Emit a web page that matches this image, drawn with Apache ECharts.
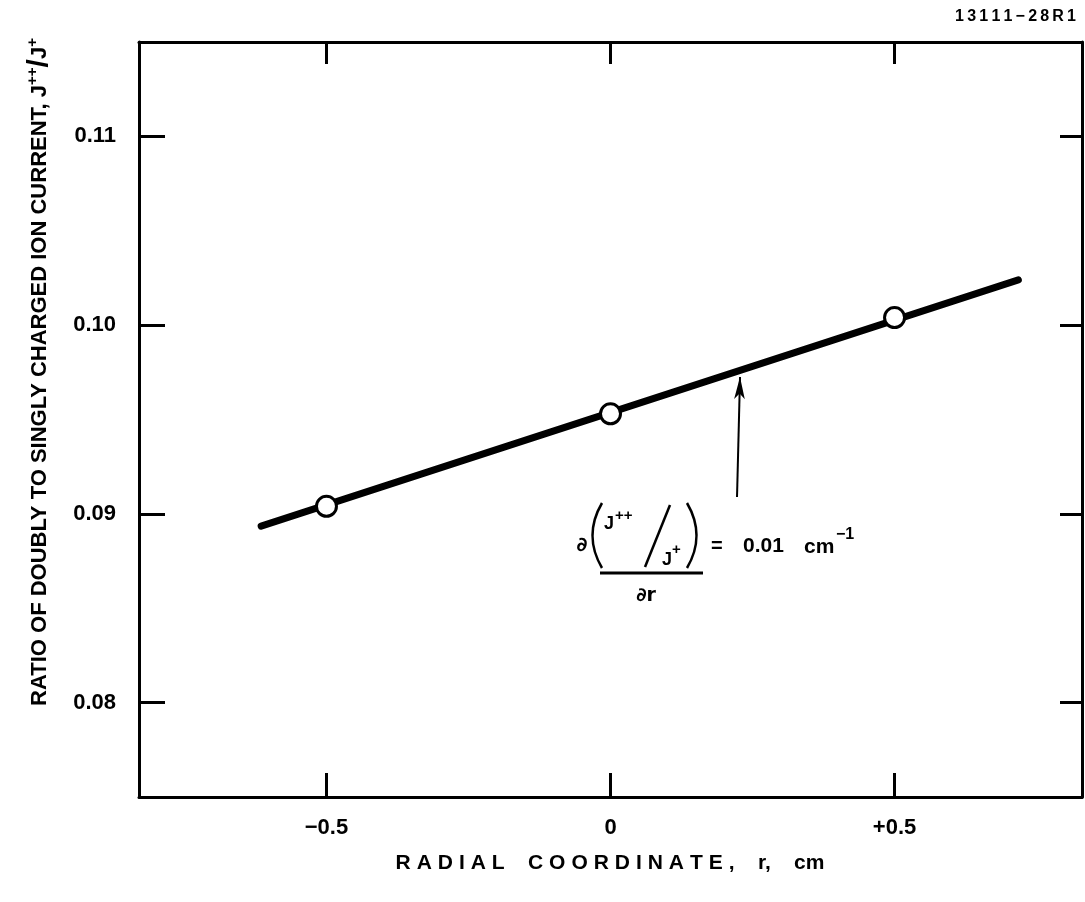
<!DOCTYPE html>
<html>
<head>
<meta charset="utf-8">
<title>J++/J+ vs radial coordinate</title>
<script src="https://cdn.jsdelivr.net/npm/echarts@6/dist/echarts.min.js"></script>
<style>
  html, body { margin: 0; padding: 0; background: #fff; }
  #chart { width: 1085px; height: 902px; }
</style>
</head>
<body>
<div id="chart"></div>
<script>
// Tick positions and their printed labels
const xTicks = [-0.5, 0, 0.5];
const xTickLabels = ['\u22120.5', '0', '+0.5'];
const yTicks = [0.08, 0.09, 0.10, 0.11];
const yTickLabels = ['0.08', '0.09', '0.10', '0.11'];

// Measured ratio at three radial positions (open circles)
const measuredR = [-0.5, 0, 0.5];
const measuredRatio = [0.0904, 0.0953, 0.1004];

// Straight-line fit through the measurements
const fitR = [-0.615, 0.718];
const fitRatio = [0.08935, 0.1024];

// Leader arrow pointing at the fitted line
const arrowR = [0.2227, 0.228];
const arrowRatio = [0.09089, 0.09725];

const FONT = '"Liberation Sans", Arial, Helvetica, sans-serif';
const INK = '#000';

function labelFor(ticks, labels) {
  return function (v) {
    for (let i = 0; i < ticks.length; i++) {
      if (Math.abs(ticks[i] - v) < 1e-9) return labels[i];
    }
    return '';
  };
}

function spaced(s, gap) {
  return s.split('').join(gap);
}

const axisLine = { show: true, onZero: false, lineStyle: { color: INK, width: 3 } };
const tickStyle = { color: INK, width: 3 };

const chart = echarts.init(document.getElementById('chart'), null, { renderer: 'canvas' });

const LETTER_GAP = '\u2009\u200A';

const option = {
  backgroundColor: '#fff',
  animation: false,
  grid: { left: 139, right: 3, top: 42, bottom: 105, containLabel: false },
  xAxis: [
    {
      type: 'value', position: 'bottom', min: -0.83, max: 0.83,
      axisLine: axisLine,
      axisTick: { show: true, inside: true, length: 24, customValues: xTicks, lineStyle: tickStyle },
      axisLabel: {
        show: true, customValues: xTicks, formatter: labelFor(xTicks, xTickLabels),
        margin: 20, color: INK, fontSize: 22, fontWeight: 'bold', fontFamily: FONT
      },
      splitLine: { show: false }
    },
    {
      type: 'value', position: 'top', min: -0.83, max: 0.83,
      axisLine: axisLine,
      axisTick: { show: true, inside: true, length: 22, customValues: xTicks, lineStyle: tickStyle },
      axisLabel: { show: false },
      splitLine: { show: false }
    }
  ],
  yAxis: [
    {
      type: 'value', position: 'left', min: 0.075, max: 0.115,
      axisLine: axisLine,
      axisTick: { show: true, inside: true, length: 26, customValues: yTicks, lineStyle: tickStyle },
      axisLabel: {
        show: true, customValues: yTicks, formatter: labelFor(yTicks, yTickLabels),
        margin: 23, color: INK, fontSize: 22, fontWeight: 'bold', fontFamily: FONT
      },
      splitLine: { show: false }
    },
    {
      type: 'value', position: 'right', min: 0.075, max: 0.115,
      axisLine: axisLine,
      axisTick: { show: true, inside: true, length: 22, customValues: yTicks, lineStyle: tickStyle },
      axisLabel: { show: false },
      splitLine: { show: false }
    }
  ],
  series: [
    {
      name: 'fit',
      type: 'line',
      xAxisIndex: 0, yAxisIndex: 0,
      data: fitR.map((r, i) => [r, fitRatio[i]]),
      symbol: 'none',
      lineStyle: { color: INK, width: 7, cap: 'round' },
      z: 2,
      markLine: {
        silent: true,
        animation: false,
        symbol: ['none', 'arrow'],
        symbolSize: [8, 22],
        label: { show: false },
        lineStyle: { color: INK, width: 2, type: 'solid' },
        data: [[
          { coord: [arrowR[0], arrowRatio[0]] },
          { coord: [arrowR[1], arrowRatio[1]] }
        ]]
      }
    },
    {
      name: 'measured',
      type: 'scatter',
      xAxisIndex: 0, yAxisIndex: 0,
      data: measuredR.map((r, i) => [r, measuredRatio[i]]),
      symbol: 'circle',
      symbolSize: 20,
      itemStyle: { color: '#fff', borderColor: INK, borderWidth: 3, opacity: 1 },
      z: 3
    }
  ],
  graphic: [
    // drawing number, top right
    {
      type: 'text', x: 1076, y: 17,
      style: {
        text: spaced('13111\u221228R1', '\u2009'),
        font: 'bold 16px ' + FONT, fill: INK, textAlign: 'right', textVerticalAlign: 'middle'
      }
    },
    // horizontal axis title
    {
      type: 'text', x: 610, y: 863,
      style: {
        text: spaced('RADIAL', LETTER_GAP) + '    ' + spaced('COORDINATE,', LETTER_GAP) + '    r,    cm',
        font: 'bold 21px ' + FONT, fill: INK, textAlign: 'center', textVerticalAlign: 'middle'
      }
    },
    // vertical axis title
    {
      type: 'text', x: 40, y: 372, rotation: Math.PI / 2,
      style: {
        text: 'RATIO OF DOUBLY TO SINGLY CHARGED ION CURRENT, J{sup|++}{sl|/}J{sup|+}',
        font: 'bold 22px ' + FONT, fill: INK, textAlign: 'center', textVerticalAlign: 'middle',
        rich: {
          sup: { fontSize: 15, fontWeight: 'bold', fontFamily: FONT, verticalAlign: 'top', padding: [0, 0, 10, 0] },
          sl: { fontSize: 30, fontWeight: 'bold', fontFamily: FONT }
        }
      }
    },
    // slope annotation: d(J++/J+)/dr = 0.01 cm^-1
    {
      type: 'text', x: 582, y: 546,
      style: { text: '\u2202', font: 'bold 20px "DejaVu Sans", ' + FONT, fill: INK, textAlign: 'center', textVerticalAlign: 'middle' }
    },
    {
      type: 'bezierCurve',
      shape: { x1: 602, y1: 503, x2: 602, y2: 568, cpx1: 583, cpy1: 535.5 },
      style: { stroke: INK, lineWidth: 2.5, fill: null }
    },
    {
      type: 'bezierCurve',
      shape: { x1: 687, y1: 503, x2: 687, y2: 568, cpx1: 706, cpy1: 535.5 },
      style: { stroke: INK, lineWidth: 2.5, fill: null }
    },
    {
      type: 'text', x: 604, y: 524,
      style: { text: 'J', font: 'bold 18px ' + FONT, fill: INK, textAlign: 'left', textVerticalAlign: 'middle' }
    },
    {
      type: 'text', x: 615, y: 516,
      style: { text: '++', font: 'bold 15px ' + FONT, fill: INK, textAlign: 'left', textVerticalAlign: 'middle' }
    },
    {
      type: 'line',
      shape: { x1: 645, y1: 567, x2: 670, y2: 505 },
      style: { stroke: INK, lineWidth: 2.5 }
    },
    {
      type: 'text', x: 662, y: 560,
      style: { text: 'J', font: 'bold 18px ' + FONT, fill: INK, textAlign: 'left', textVerticalAlign: 'middle' }
    },
    {
      type: 'text', x: 672, y: 550,
      style: { text: '+', font: 'bold 15px ' + FONT, fill: INK, textAlign: 'left', textVerticalAlign: 'middle' }
    },
    {
      type: 'line',
      shape: { x1: 600, y1: 573, x2: 703, y2: 573 },
      style: { stroke: INK, lineWidth: 3 }
    },
    {
      type: 'text', x: 646, y: 596,
      style: { text: '\u2202r', font: 'bold 19px "DejaVu Sans", ' + FONT, fill: INK, textAlign: 'center', textVerticalAlign: 'middle' }
    },
    {
      type: 'text', x: 711, y: 546,
      style: { text: '=', font: 'bold 20px ' + FONT, fill: INK, textAlign: 'left', textVerticalAlign: 'middle' }
    },
    {
      type: 'text', x: 743, y: 546,
      style: { text: '0.01', font: 'bold 21px ' + FONT, fill: INK, textAlign: 'left', textVerticalAlign: 'middle' }
    },
    {
      type: 'text', x: 804, y: 547,
      style: { text: 'cm', font: 'bold 21px ' + FONT, fill: INK, textAlign: 'left', textVerticalAlign: 'middle' }
    },
    {
      type: 'text', x: 836, y: 535,
      style: { text: '\u22121', font: 'bold 16px ' + FONT, fill: INK, textAlign: 'left', textVerticalAlign: 'middle' }
    }
  ]
};

chart.setOption(option);
</script>
</body>
</html>
